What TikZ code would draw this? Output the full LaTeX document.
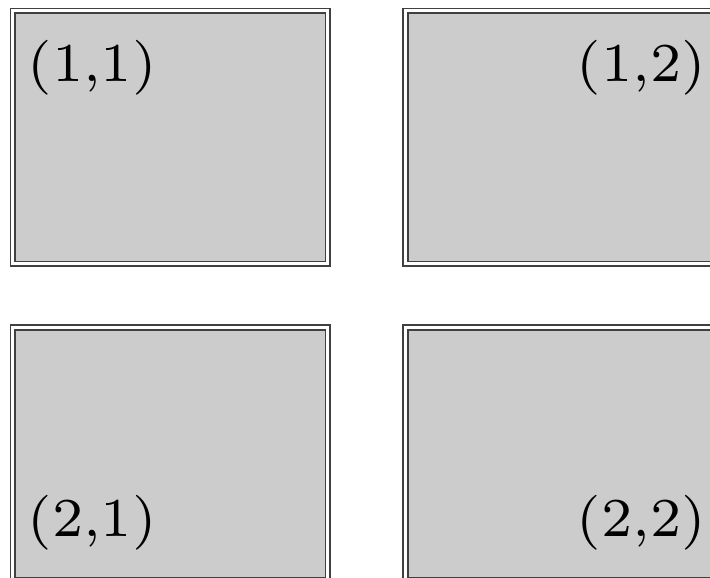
\documentclass[tikz,border=0pt]{standalone}
\usetikzlibrary{positioning}
\begin{document}
\begin{tikzpicture}[
    x=0.25pt, y=0.25pt,
    cell/.style={draw=black!75, double, line width=0.45pt, double distance=0.75pt, fill=gray!40,
      minimum width=78.75pt, minimum height=63.25pt, inner sep=0pt, outer sep=0pt},
    lbl/.style={inner sep=0pt, font=\fontsize{7}{8}\selectfont, scale=1.96, transform shape},
  ]
  \useasboundingbox (0,0) rectangle (710,-578);
  \clip (0,0) rectangle (710,-578);
  % Cells
  \node[cell, anchor=north west] (b11) at (13,-11) {};
  \node[cell, right=19.4pt of b11] (b12) {};
  \node[cell, below=15.9pt of b11] (b21) {};
  \node[cell, right=19.4pt of b21] (b22) {};
  % Labels
  \node[lbl, anchor=base west] (l11) at ([shift={(13,-70.5)}]b11.north west) {(1,1)};
  \node[lbl, anchor=base east] (l12) at ([shift={(-13,-70.5)}]b12.north east) {(1,2)};
  \node[lbl, anchor=base west] (l21) at ([shift={(13,44)}]b21.south west) {(2,1)};
  \node[lbl, anchor=base east] (l22) at ([shift={(-13,44)}]b22.south east) {(2,2)};
\end{tikzpicture}
\end{document}
